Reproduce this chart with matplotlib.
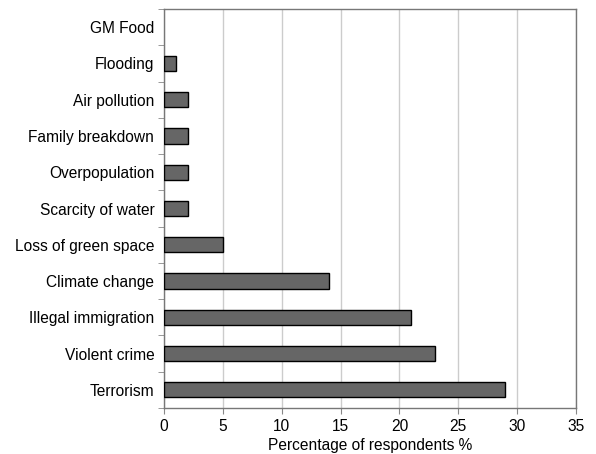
import matplotlib
matplotlib.use('Agg')
import matplotlib.pyplot as plt
import numpy as np

categories = ['Terrorism', 'Violent crime', 'Illegal immigration', 'Climate change',
              'Loss of green space', 'Scarcity of water', 'Overpopulation',
              'Family breakdown', 'Air pollution', 'Flooding', 'GM Food']
values = [29, 23, 21, 14, 5, 2, 2, 2, 2, 1, 0]

plt.rcParams['font.family'] = ['Liberation Sans', 'DejaVu Sans']

fig = plt.figure(figsize=(5.96, 4.54), dpi=100)
ax = fig.add_axes([164 / 596, 1 - 408 / 454, (576 - 164) / 596, (408 - 9) / 454])

y = np.arange(len(categories))
widths = [1.0 if v > 0 else 0 for v in values]
ax.barh(y, values, height=0.42, color='#666666', edgecolor='black', linewidth=widths, zorder=3)

ax.set_xlim(0, 35)
ax.set_ylim(-0.5, len(categories) - 0.5)
ax.set_xticks(np.arange(0, 36, 5))
ax.set_yticks(y)
ax.set_yticklabels(categories, fontsize=11.2)
ax.set_yticks(np.arange(-0.5, len(categories), 1), minor=True)
ax.tick_params(axis='y', which='major', length=0, pad=7)
ax.tick_params(axis='y', which='minor', length=4, color='#888888')
ax.tick_params(axis='x', length=4, color='#888888', labelsize=11.2, pad=4)
ax.xaxis.grid(True, color='#cccccc', linewidth=1.0, zorder=0)
ax.set_axisbelow(True)
for s in ax.spines.values():
    s.set_color('#777777')
    s.set_linewidth(1.0)
ax.set_xlabel('Percentage of respondents %', fontsize=11.2, labelpad=3)

fig.savefig('out.png', dpi=100)
